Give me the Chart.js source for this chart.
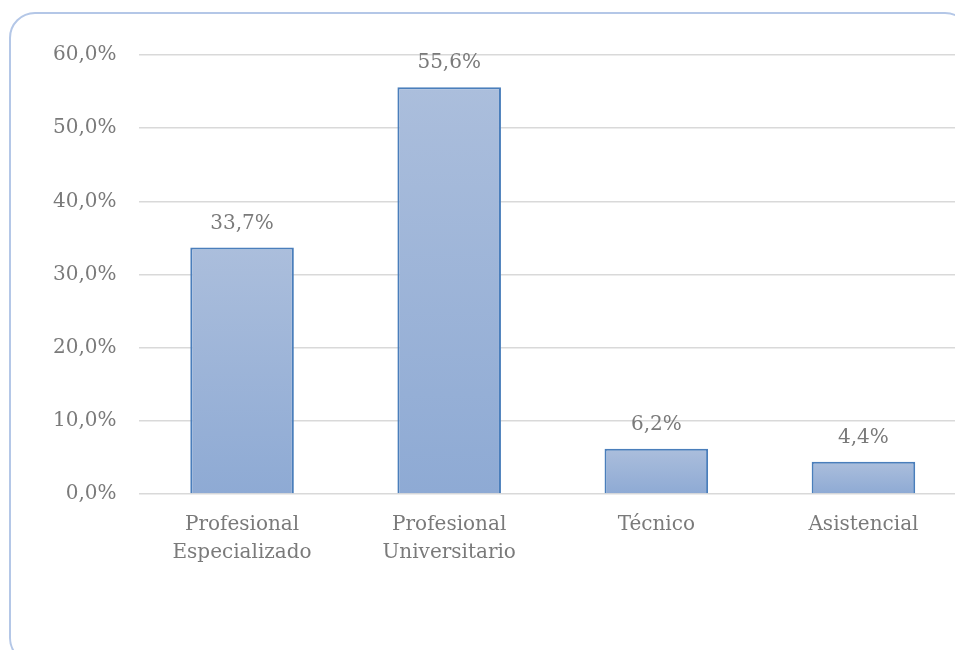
<!DOCTYPE html>
<html>
<head>
<meta charset="utf-8">
<script src="https://cdn.jsdelivr.net/npm/chart.js@4.4.1/dist/chart.umd.min.js"></script>
<style>
  html, body { margin: 0; padding: 0; background: #ffffff; overflow: hidden; }
  #wrap { position: relative; width: 955px; height: 650px; overflow: hidden; }
  #frame { position: absolute; left: 9px; top: 12px; width: 962px; height: 652px;
           border: 2px solid #b4c7e7; border-radius: 26px; box-sizing: border-box; }
  #cv { position: absolute; left: 0; top: 0; }
</style>
</head>
<body>
<div id="wrap">
  <div id="frame"></div>
  <canvas id="cv" width="967" height="650"></canvas>
</div>
<script>
const categories = [["Profesional", "Especializado"], ["Profesional", "Universitario"], ["Técnico"], ["Asistencial"]];
const values = [33.7, 55.6, 6.2, 4.4];
const yTicks = [0, 10, 20, 30, 40, 50, 60];

const FONT = "'DejaVu Serif', serif";
const TEXT = '#7a7a7a';
const fmt = v => v.toFixed(1).replace('.', ',') + '%';

const labelPlugin = {
  id: 'valueLabels',
  afterDatasetsDraw(chart) {
    const ctx = chart.ctx;
    const meta = chart.getDatasetMeta(0);
    ctx.save();
    ctx.font = '20px ' + FONT;
    ctx.fillStyle = TEXT;
    ctx.textAlign = 'center';
    ctx.textBaseline = 'middle';
    meta.data.forEach((bar, i) => {
      ctx.fillText(fmt(values[i]), bar.x, bar.y - 24);
    });
    ctx.restore();
  }
};

function barFill(context) {
  const chart = context.chart;
  const ca = chart.chartArea;
  if (!ca) return '#9db2d8';
  const ys = chart.scales.y;
  const v = context.raw;
  const top = ys.getPixelForValue(v);
  const bot = ys.getPixelForValue(0);
  const g = chart.ctx.createLinearGradient(0, top, 0, bot);
  g.addColorStop(0, '#abbedc');
  g.addColorStop(1, '#8eaad4');
  return g;
}

new Chart(document.getElementById('cv'), {
  type: 'bar',
  data: {
    labels: categories,
    datasets: [{
      data: values,
      backgroundColor: barFill,
      borderColor: '#4a7ebb',
      borderWidth: 2,
      borderSkipped: 'bottom',
      categoryPercentage: 1.0,
      barPercentage: 0.5
    }]
  },
  options: {
    responsive: false,
    animation: false,
    events: [],
    layout: { padding: { top: 55, right: 0, bottom: 0, left: 0 } },
    plugins: { legend: { display: false }, tooltip: { enabled: false } },
    scales: {
      x: {
        grid: { display: false, drawTicks: false },
        border: { display: false },
        ticks: { color: TEXT, font: { family: FONT, size: 20, lineHeight: 1.4 }, padding: 17, maxRotation: 0, autoSkip: false },
        afterFit(s) { s.height = 156; }
      },
      y: {
        min: 0, max: 60,
        afterBuildTicks(s) { s.ticks = yTicks.map(v => ({ value: v })); },
        grid: { color: '#d9d9d9', lineWidth: 1.5, drawTicks: false },
        border: { display: false },
        ticks: { color: TEXT, font: { family: FONT, size: 20 }, padding: 22, callback: v => fmt(v) },
        afterFit(s) { s.width = 138.5; }
      }
    }
  },
  plugins: [labelPlugin]
});
</script>
</body>
</html>
